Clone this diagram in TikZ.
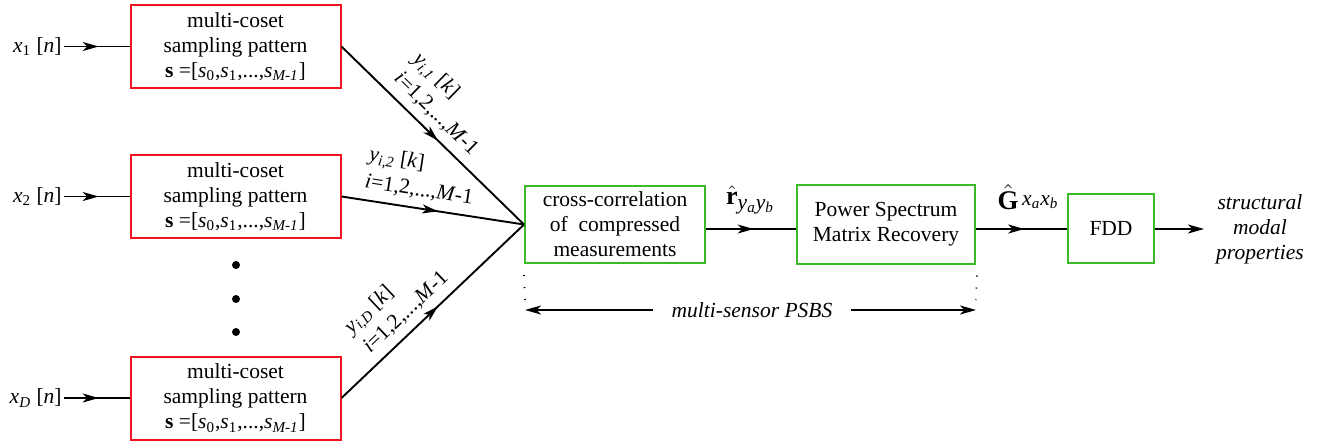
\documentclass[tikz,border=0pt]{standalone}
\usepackage{fontspec}
\setmainfont{Liberation Serif}
\usetikzlibrary{arrows.meta,decorations.markings}
\definecolor{boxred}{RGB}{240,20,30}
\definecolor{boxgreen}{RGB}{60,185,40}
\newcommand{\fs}{\fontsize{10.75}{12.5}\selectfont}
\newcommand{\fl}{\fontsize{10.75}{13.5}\selectfont}
\newcommand{\vi}[1]{\textit{#1}}
\newcommand{\sbi}[1]{\textsubscript{\textit{#1}}}
\newcommand{\sbr}[1]{\textsubscript{#1}}
\tikzset{
  mytip/.tip={Stealth[length=8pt,width=4.5pt,inset=2.2pt]},
  wire/.style={line width=0.95pt},
  midarrow/.style={wire, postaction={decorate},
    decoration={markings, mark=at position 0.53 with {\arrow{mytip}}}},
  endarrow/.style={wire, -{mytip}},
  redbox/.style={draw=boxred, line width=1pt, minimum width=105pt,
    minimum height=41.5pt, align=center, inner sep=0pt, font=\fs},
  greenbox/.style={draw=boxgreen, line width=1pt, align=center,
    inner sep=0pt, font=\fs},
  lbl/.style={font=\fs, inner sep=1pt},
  slbl/.style={font=\fl, inner sep=1.5pt, align=left, sloped, above=2.5pt},
  dotsty/.style={line width=0.8pt, dash pattern=on 0.6pt off 5.4pt},
  bigdot/.style={circle, fill=black, inner sep=0pt, minimum size=4pt},
}
\begin{document}
\begin{tikzpicture}[x=0.5pt,y=-0.5pt]
\useasboundingbox (0,0) rectangle (1327,447);
% sampling boxes
\node[redbox] (r1) at (235.5,46.5) {multi-coset\\sampling pattern\\\textbf{s} =[\vi{s}\sbr{0},\vi{s}\sbr{1},...,\vi{s}\sbi{M-1}]};
\node[redbox] (r2) at (235.5,196.5) {multi-coset\\sampling pattern\\\textbf{s} =[\vi{s}\sbr{0},\vi{s}\sbr{1},...,\vi{s}\sbi{M-1}]};
\node[redbox] (r3) at (235.5,398) {multi-coset\\sampling pattern\\\textbf{s} =[\vi{s}\sbr{0},\vi{s}\sbr{1},...,\vi{s}\sbi{M-1}]};
% inputs
\node[lbl, anchor=east] (x1) at (64,46.5) {\vi{x}\sbr{1} [\vi{n}]};
\node[lbl, anchor=east] (x2) at (64,196.5) {\vi{x}\sbr{2} [\vi{n}]};
\node[lbl, anchor=east] (xd) at (64,398) {\vi{x}\sbi{D} [\vi{n}]};
\draw[midarrow] (x1.east) -- (r1.west);
\draw[midarrow] (x2.east) -- (r2.west);
\draw[midarrow] (xd.east) -- (r3.west);
% dots
\node[bigdot] (d1) at (236,265) {};
\node[bigdot] (d2) at (236,299) {};
\node[bigdot] (d3) at (236,332) {};
% processing chain
\node[greenbox, minimum width=90pt, minimum height=38.5pt] (g1) at (615,224.5) {cross-correlation\\of~ compressed\\measurements};
\node[greenbox, minimum width=89pt, minimum height=39.5pt] (g2) at (886,224) {Power Spectrum\\Matrix Recovery};
\node[greenbox, minimum width=43pt, minimum height=34.5pt] (g3) at (1111,228.5) {FDD};
\node[font=\fs\itshape, align=center, inner sep=0pt] (out) at (1260,229) {structural\\modal\\properties};
\coordinate (ax) at (0,229);
% converging connectors
\draw[midarrow] (r1.east) -- node[slbl, pos=0.45] {\vi{y}\sbi{i,1} [\vi{k}]\\\vi{i}=1,2,...,\vi{M}-1} (g1.west);
\draw[midarrow] (r2.east) -- node[slbl, pos=0.41] {\vi{y}\sbi{i,2} [\vi{k}]\\\vi{i}=1,2,...,\vi{M}-1} (g1.west);
\draw[midarrow] (r3.east) -- node[slbl, pos=0.42] {\vi{y}\sbi{i,D} [\vi{k}]\\\vi{i}=1,2,...,\vi{M}-1} (g1.west);
% chain arrows
\draw[midarrow] (g1.east |- ax) -- (g2.west |- ax);
\draw[midarrow] (g2.east |- ax) -- (g3.west |- ax);
\coordinate (oe) at (1204,229);
\draw[endarrow] (g3.east |- ax) -- (oe);
\node[lbl, inner sep=0pt] (rh) at (750,200) {{\fontsize{13}{13}\selectfont$\hat{\mathbf{r}}$}\raisebox{-2.5pt}{\vi{y}\sbi{a}\vi{y}\sbi{b}}};
\node[lbl, inner sep=0pt] (gh) at (1028,197) {{\fontsize{13.5}{13.5}\selectfont$\hat{\mathbf{G}}$}\,\raisebox{2pt}{\vi{x}\sbi{a}\vi{x}\sbi{b}}};
% span arrow
\coordinate (dl) at (525,310);
\coordinate (dr) at (976,310);
\node[font=\fs\itshape, inner ysep=1pt, inner xsep=9pt] (ps) at (752,310) {multi-sensor PSBS};
\draw[endarrow] (ps.west) -- (dl);
\draw[endarrow] (ps.east) -- (dr);
\draw[dotsty] ([yshift=-5.5pt]g1.south west) -- ([yshift=5pt]dl);
\draw[dotsty] ([xshift=0.5pt,yshift=-5.5pt]g2.south east) -- ([yshift=5pt]dr);
\end{tikzpicture}
\end{document}
